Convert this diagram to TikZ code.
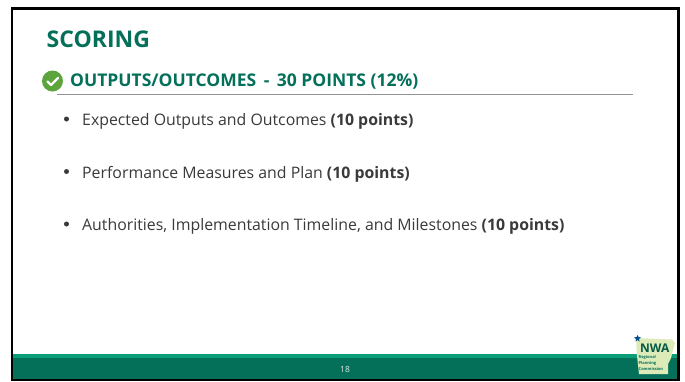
\documentclass[tikz,border=0pt]{standalone}
\usepackage{fontspec}
\setmainfont{Open Sans}
\definecolor{dkgreen}{HTML}{05705A}
\definecolor{ltgreen}{HTML}{0B9C78}
\definecolor{chk}{HTML}{5BA53C}
\definecolor{txt}{HTML}{3A3A3A}
\definecolor{mapg}{HTML}{DDEBB8}
\tikzset{
 body/.style={anchor=west,inner sep=0,text=txt,font=\fontsize{15.85}{17}\selectfont},
 bul/.style={circle,fill=txt,inner sep=0,minimum size=5pt}
}
\begin{document}
\begin{tikzpicture}[x=1pt,y=-1pt]
\useasboundingbox (0,0) rectangle (685,381);
\fill[white] (0,0) rectangle (685,381);
\fill[dkgreen] (12,358) rectangle (678,380);
\fill[ltgreen] (12,354) rectangle (678,358);
\draw[black,line width=2.6pt] (12,8.2) rectangle (678.5,380);
\node[anchor=west,inner sep=0,text=dkgreen,font=\fontsize{23}{26}\bfseries\selectfont] (title) at (46.5,39.5) {SCORING};
\node[circle,fill=chk,inner sep=0,minimum size=21pt] (chkc) at (52.5,81) {};
\draw[white,line width=2.2pt,line cap=round,line join=round] (47.5,81.5) -- (51,85) -- (58,78);
\node[anchor=west,inner sep=0,text=dkgreen,font=\fontsize{17.5}{20}\bfseries\selectfont] (head) at (70,82) {OUTPUTS/OUTCOMES\, -\, 30 POINTS (12\%)};
\coordinate (ruleA) at (57,94.3);
\coordinate (ruleB) at (633,94.3);
\draw[gray!85,line width=0.7pt] (ruleA) -- (ruleB);
\node[bul] (b1) at (66.5,119) {};
\node[body] (t1) at (82,121.5) {Expected Outputs and Outcomes \textbf{(10 points)}};
\node[bul] (b2) at (66.5,171.5) {};
\node[body] (t2) at (82,174) {Performance Measures and Plan \textbf{(10 points)}};
\node[bul] (b3) at (66.5,224) {};
\node[body] (t3) at (82,226.5) {Authorities, Implementation Timeline, and Milestones \textbf{(10 points)}};
\node[inner sep=0,text=white!85!dkgreen,font=\fontsize{8.5}{10}\selectfont] (pg) at (345,369) {18};
% logo
\fill[mapg] (636,338) -- (672,339.5) -- (675,343) -- (673,350) -- (671,358) -- (668,364) -- (668,374) -- (639,374) -- (637,356) -- cycle;
\fill[dkgreen!70!blue] (636.5,337) -- (637.5,335) -- (638.5,337) -- (641,337.5) -- (639,339) -- (639.5,341.5) -- (637.5,340) -- (635.5,341.5) -- (636,339) -- (634,337.5) -- cycle;
\node[anchor=west,inner sep=0,text=dkgreen!80!black,font=\fontsize{12}{13}\bfseries\selectfont] (nwa) at (640,348.5) {NWA};
\node[anchor=west,inner sep=0,align=left,text=dkgreen,font=\fontsize{4}{6}\bfseries\selectfont] (rpc) at (638.5,362.5) {Regional\\Planning\\Commission};
\end{tikzpicture}
\end{document}
